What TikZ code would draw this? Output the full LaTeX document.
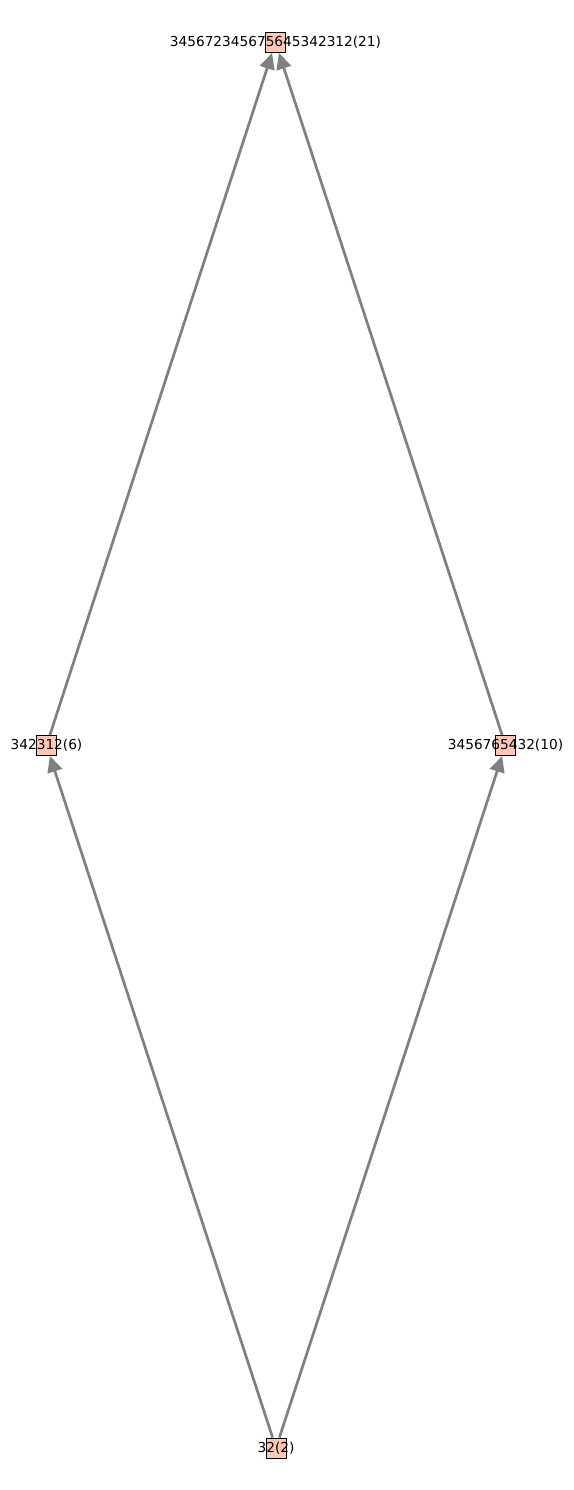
\documentclass[tikz,border=0pt]{standalone}
\usepackage{fontspec}
\setmainfont{DejaVu Sans}
\usetikzlibrary{arrows.meta}
\definecolor{boxfill}{RGB}{255,199,183}
\definecolor{edgegray}{RGB}{128,128,128}
\tikzset{
  vbox/.style={draw=black, line width=1pt, fill=boxfill, minimum size=20pt, inner sep=0pt},
  vlabel/.style={inner sep=0pt, font=\fontsize{13.7}{16}\selectfont, text=black},
  edge/.style={draw=edgegray, line width=2.7pt, -{Triangle[length=16pt, width=15pt]}}
}
\begin{document}
\begin{tikzpicture}[x=1pt, y=-1pt]
\useasboundingbox (0,0) rectangle (573,1490);
\node[vbox] (top) at (275.5,42.5) {};
\node[vbox] (left) at (46.5,745.5) {};
\node[vbox] (right) at (505.5,745.5) {};
\node[vbox] (bot) at (276,1448) {};
\draw[edge] (bot) -- (left);
\draw[edge] (bot) -- (right);
\draw[edge] (left) -- (top);
\draw[edge] (right) -- (top);
\node[vlabel] (ltop) at (top) {345672345675645342312(21)};
\node[vlabel] (lleft) at (left) {342312(6)};
\node[vlabel] (lright) at (right) {3456765432(10)};
\node[vlabel] (lbot) at (bot) {32(2)};
\end{tikzpicture}
\end{document}
